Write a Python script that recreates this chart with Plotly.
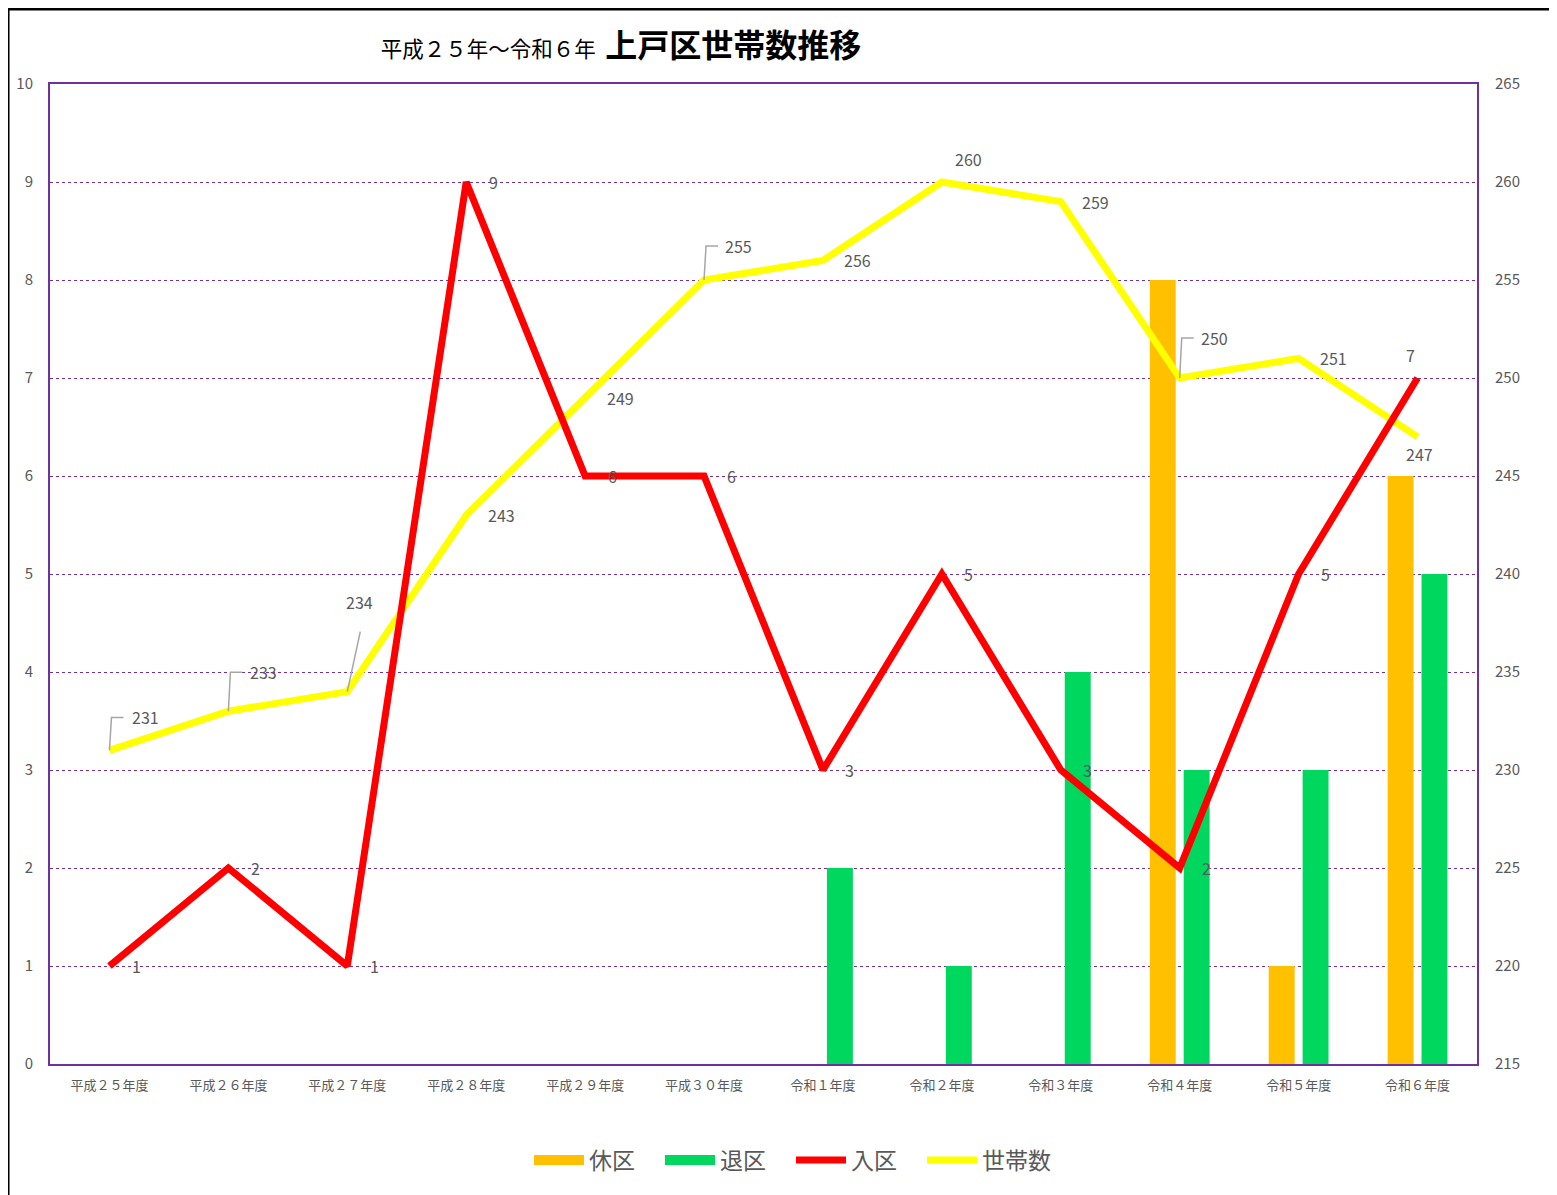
import plotly.graph_objects as go

categories = ["平成２５年度", "平成２６年度", "平成２７年度", "平成２８年度", "平成２９年度",
              "平成３０年度", "令和１年度", "令和２年度", "令和３年度", "令和４年度",
              "令和５年度", "令和６年度"]
kyuku = [0, 0, 0, 0, 0, 0, 0, 0, 0, 8, 1, 6]        # 休区
taiku = [0, 0, 0, 0, 0, 0, 2, 1, 4, 3, 3, 5]        # 退区
nyuku = [1, 2, 1, 9, 6, 6, 3, 5, 3, 2, 5, 7]        # 入区
setai = [231, 233, 234, 243, 249, 255, 256, 260, 259, 250, 251, 247]  # 世帯数

left_ticks = list(range(0, 11))
right_ticks = list(range(215, 266, 5))

# label placement (pixel offsets) -- styling, not data
nyuku_off = [(27, 0)] * 11 + [(-7, 23)]
setai_off = [(36, 33), (35, 39), (12, 90), (35, 0), (35, 0), (34, 34),
             (35, 0), (27, 23), (35, 0), (35, 40), (35, 0), (2, -17)]
setai_leader = ["elbow", "elbow", "diag", None, None, "elbow", None, None, None, "elbow", None, None]

FONT = "Noto Sans CJK JP"
GRAY = "#595959"
PURPLE = "#7030A0"
ORANGE = "#FFC000"
GREEN = "#00D75F"

fig = go.Figure()
fig.add_trace(go.Bar(x=categories, y=kyuku, name="休区", marker_color=ORANGE,
                     marker_line_width=0, yaxis="y", showlegend=False, legendgroup="a"))
fig.add_trace(go.Bar(x=categories, y=taiku, name="退区", marker_color=GREEN,
                     marker_line_width=0, yaxis="y", showlegend=False, legendgroup="b"))
fig.add_trace(go.Scatter(x=categories, y=setai, name="世帯数", mode="lines",
                         line=dict(color="#FFFF00", width=7), yaxis="y2", legendrank=4))
fig.add_trace(go.Scatter(x=categories, y=nyuku, name="入区", mode="lines",
                         line=dict(color="#FF0000", width=7), yaxis="y3", legendrank=3))
# legend-only swatches for the bar series (wide rectangles like the original)
fig.add_trace(go.Scatter(x=[None], y=[None], name="休区", mode="lines", legendgroup="a",
                         line=dict(color=ORANGE, width=14), legendrank=1, hoverinfo="skip"))
fig.add_trace(go.Scatter(x=[None], y=[None], name="退区", mode="lines", legendgroup="b",
                         line=dict(color=GREEN, width=14), legendrank=2, hoverinfo="skip"))

annotations = []
shapes = []
for i, (c, v) in enumerate(zip(categories, nyuku)):
    dx, dy = nyuku_off[i]
    annotations.append(dict(x=i, y=v, xref="x", yref="y3", text=str(v), showarrow=False,
                            xshift=dx, yshift=dy, font=dict(family=FONT, size=16, color=GRAY)))
for i, (c, v) in enumerate(zip(categories, setai)):
    dx, dy = setai_off[i]
    annotations.append(dict(x=i, y=v, xref="x", yref="y2", text=str(v), showarrow=False,
                            xshift=dx, yshift=dy, font=dict(family=FONT, size=16, color=GRAY)))
    kind = setai_leader[i]
    if kind == "elbow":
        path = f"M0,0 L2,{dy} L14,{dy}"
    elif kind == "diag":
        path = f"M0,0 L13,{dy - 30}"
    else:
        continue
    shapes.append(dict(type="path", xref="x", yref="y2", xsizemode="pixel", ysizemode="pixel",
                       xanchor=i, yanchor=v, path=path,
                       line=dict(color="#A6A6A6", width=1.5)))

# outer black frame (left and top)
shapes.append(dict(type="line", xref="paper", yref="paper", x0=-0.0294, x1=-0.0294,
                   y0=1.0765, y1=-0.2, line=dict(color="black", width=3)))
shapes.append(dict(type="line", xref="paper", yref="paper", x0=-0.0294, x1=1.1,
                   y0=1.0765, y1=1.0765, line=dict(color="black", width=3)))

W, H = 1549, 1187
fig.update_layout(
    width=W, height=H,
    margin=dict(l=42, r=80, t=76, b=131),
    paper_bgcolor="white", plot_bgcolor="white",
    font=dict(family=FONT, color=GRAY),
    barmode="group", bargap=0.43, bargroupgap=0.235,
    title=dict(text="平成２５年～令和６年  <b><span style='font-size:32px;color:black'>上戸区世帯数推移</span></b>",
               x=613 / W, xref="container", xanchor="center", y=1 - 41 / H, yref="container",
               yanchor="middle", font=dict(family=FONT, size=21.5, color="black"),
               automargin=False),
    xaxis=dict(type="category", showline=True, linecolor=PURPLE, linewidth=2, mirror=True,
               showgrid=False, tickfont=dict(family=FONT, size=13, color=GRAY),
               ticks="outside", ticklen=8, tickcolor="rgba(0,0,0,0)", range=[-0.5, 11.5],
               automargin=False),
    yaxis=dict(range=[0, 10], tickvals=left_ticks, showgrid=True, gridcolor=PURPLE,
               griddash="dot", gridwidth=1, zeroline=False, showline=True, linecolor=PURPLE,
               linewidth=2, mirror=True, tickfont=dict(family=FONT, size=15, color=GRAY),
               ticks="outside", ticklen=12, tickcolor="rgba(0,0,0,0)", automargin=False),
    yaxis2=dict(range=[215, 265], tickvals=right_ticks, overlaying="y", side="right",
                showgrid=False, zeroline=False, tickfont=dict(family=FONT, size=15, color=GRAY),
                ticks="outside", ticklen=14, tickcolor="rgba(0,0,0,0)", automargin=False),
    yaxis3=dict(range=[0, 10], overlaying="y", visible=False, showgrid=False, zeroline=False,
                automargin=False),
    legend=dict(orientation="h", xref="container", yref="container",
                x=783 / W, xanchor="center", y=1 - 1152 / H, yanchor="middle",
                font=dict(family=FONT, size=23, color=GRAY), itemwidth=50,
                entrywidth=66, entrywidthmode="pixels",
                bgcolor="rgba(0,0,0,0)"),
    annotations=annotations,
    shapes=shapes,
)

fig.write_html("out.html")
